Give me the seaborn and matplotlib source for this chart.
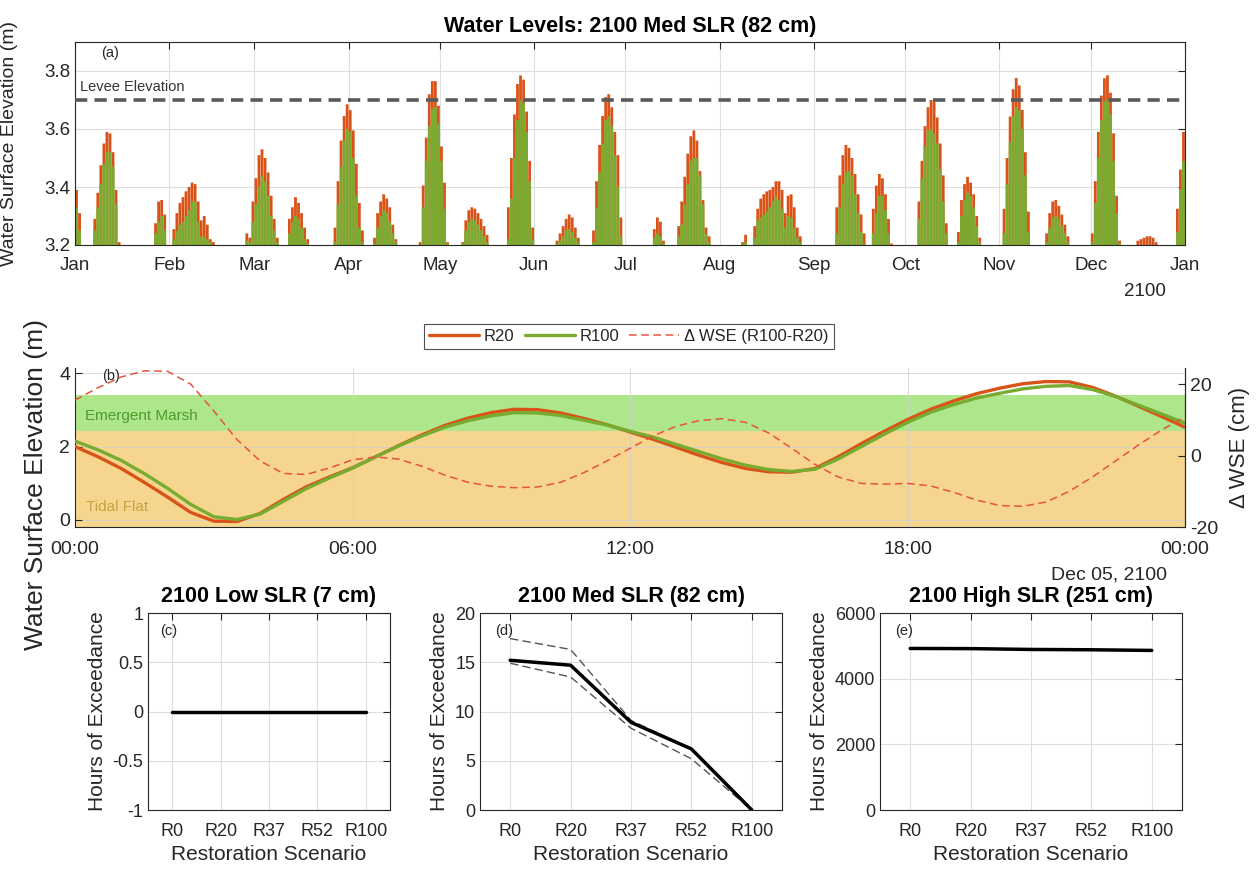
import numpy as np
import pandas as pd
import matplotlib
matplotlib.use("Agg")
import matplotlib.pyplot as plt
import seaborn as sns
from matplotlib.lines import Line2D

# ---------------- data ----------------
# Panel (a): daily maximum water levels (m), grouped in clusters of consecutive days
cluster_start = [0, 6, 26, 32, 56, 58, 70, 85, 98, 113, 127, 142, 158, 170, 190,
                 198, 219, 223, 250, 262, 277, 290, 305, 319, 334, 349, 362]
r20_clusters = [
    [3.39, 3.31],
    [3.29, 3.38, 3.475, 3.55, 3.59, 3.585, 3.52, 3.39, 3.21],
    [3.275, 3.35, 3.355, 3.305],
    [3.255, 3.31, 3.345, 3.365, 3.385, 3.40, 3.415, 3.41, 3.35, 3.285, 3.30, 3.27, 3.22, 3.21],
    [3.24, 3.225],
    [3.35, 3.43, 3.51, 3.53, 3.50, 3.45, 3.37, 3.29, 3.225],
    [3.29, 3.33, 3.365, 3.345, 3.31, 3.26, 3.22],
    [3.26, 3.42, 3.56, 3.645, 3.685, 3.665, 3.595, 3.48, 3.345, 3.25],
    [3.225, 3.31, 3.35, 3.375, 3.36, 3.33, 3.27, 3.22],
    [3.21, 3.405, 3.57, 3.72, 3.765, 3.765, 3.68, 3.54, 3.415, 3.21],
    [3.21, 3.285, 3.32, 3.33, 3.325, 3.31, 3.29, 3.265, 3.235],
    [3.33, 3.50, 3.65, 3.755, 3.785, 3.77, 3.66, 3.49, 3.26],
    [3.215, 3.24, 3.265, 3.29, 3.305, 3.295, 3.26, 3.225],
    [3.25, 3.42, 3.545, 3.645, 3.71, 3.72, 3.675, 3.59, 3.51, 3.295],
    [3.255, 3.295, 3.28, 3.215],
    [3.265, 3.35, 3.435, 3.515, 3.575, 3.595, 3.56, 3.455, 3.355, 3.26, 3.23],
    [3.21, 3.235],
    [3.265, 3.325, 3.36, 3.375, 3.385, 3.39, 3.40, 3.42, 3.42, 3.39, 3.31, 3.37, 3.375, 3.33, 3.26, 3.23],
    [3.33, 3.44, 3.51, 3.545, 3.535, 3.50, 3.445, 3.375, 3.305, 3.24],
    [3.325, 3.405, 3.445, 3.43, 3.375, 3.29, 3.205],
    [3.35, 3.49, 3.61, 3.675, 3.70, 3.695, 3.64, 3.55, 3.44, 3.275],
    [3.245, 3.355, 3.41, 3.435, 3.415, 3.375, 3.30, 3.225],
    [3.325, 3.50, 3.643, 3.737, 3.776, 3.75, 3.666, 3.52, 3.315],
    [3.24, 3.31, 3.35, 3.355, 3.335, 3.305, 3.27, 3.23],
    [3.24, 3.42, 3.59, 3.715, 3.775, 3.785, 3.725, 3.585, 3.37, 3.215],
    [3.215, 3.22, 3.225, 3.23, 3.23, 3.225, 3.21],
    [3.325, 3.46, 3.59],
]
r100_clusters = [
    [3.33, 3.25],
    [3.25, 3.33, 3.41, 3.48, 3.52, 3.52, 3.47, 3.34, 3.20],
    [3.24, 3.28, 3.30, 3.25],
    [3.22, 3.25, 3.27, 3.28, 3.30, 3.32, 3.35, 3.35, 3.28, 3.23, 3.23, 3.22, 3.21, 3.20],
    [3.215, 3.21],
    [3.28, 3.34, 3.40, 3.44, 3.42, 3.37, 3.30, 3.25, 3.21],
    [3.24, 3.28, 3.30, 3.29, 3.26, 3.22, 3.205],
    [3.21, 3.34, 3.47, 3.56, 3.60, 3.59, 3.50, 3.37, 3.26, 3.21],
    [3.205, 3.26, 3.30, 3.32, 3.31, 3.28, 3.24, 3.21],
    [3.20, 3.33, 3.49, 3.61, 3.67, 3.675, 3.62, 3.49, 3.325, 3.205],
    [3.205, 3.25, 3.28, 3.29, 3.285, 3.27, 3.25, 3.23, 3.21],
    [3.22, 3.36, 3.50, 3.63, 3.70, 3.69, 3.59, 3.42, 3.22],
    [3.205, 3.215, 3.23, 3.25, 3.255, 3.245, 3.225, 3.21],
    [3.21, 3.33, 3.45, 3.55, 3.63, 3.645, 3.61, 3.51, 3.40, 3.23],
    [3.225, 3.24, 3.23, 3.205],
    [3.23, 3.27, 3.34, 3.41, 3.49, 3.50, 3.50, 3.44, 3.34, 3.24, 3.21],
    [3.205, 3.21],
    [3.225, 3.285, 3.295, 3.305, 3.315, 3.33, 3.35, 3.365, 3.355, 3.325, 3.26, 3.30, 3.295, 3.26, 3.225, 3.21],
    [3.24, 3.33, 3.41, 3.45, 3.455, 3.44, 3.375, 3.31, 3.245, 3.205],
    [3.24, 3.31, 3.37, 3.37, 3.32, 3.24, 3.20],
    [3.29, 3.43, 3.54, 3.595, 3.60, 3.585, 3.55, 3.46, 3.35, 3.24],
    [3.21, 3.30, 3.355, 3.38, 3.37, 3.33, 3.265, 3.21],
    [3.24, 3.41, 3.555, 3.645, 3.675, 3.665, 3.60, 3.44, 3.245],
    [3.21, 3.26, 3.295, 3.30, 3.29, 3.265, 3.24, 3.21],
    [3.21, 3.345, 3.50, 3.63, 3.695, 3.70, 3.65, 3.49, 3.31, 3.205],
    [3.19, 3.19, 3.19, 3.19, 3.19, 3.19, 3.19],
    [3.245, 3.39, 3.49],
]
levee_elevation = 3.7
month_start_days = [0, 31, 59, 90, 120, 151, 181, 212, 243, 273, 304, 334, 365]
month_labels = ["Jan", "Feb", "Mar", "Apr", "May", "Jun", "Jul", "Aug", "Sep",
                "Oct", "Nov", "Dec", "Jan"]

# Panel (b): Dec 05, 2100, half-hourly
hours = np.arange(0, 24.5, 0.5)
wse_r20 = [2.00, 1.72, 1.40, 1.02, 0.62, 0.20, -0.04, -0.05, 0.17, 0.55,
           0.90, 1.17, 1.42, 1.72, 2.03, 2.32, 2.58, 2.78, 2.93, 3.02,
           3.01, 2.92, 2.77, 2.60, 2.40, 2.20, 1.98, 1.76, 1.56, 1.40,
           1.31, 1.30, 1.40, 1.72, 2.08, 2.42, 2.74, 3.02, 3.25, 3.45,
           3.60, 3.72, 3.78, 3.77, 3.62, 3.38, 3.10, 2.82, 2.53]
wse_r100 = [2.15, 1.91, 1.62, 1.26, 0.86, 0.42, 0.08, 0.005, 0.15, 0.50,
            0.85, 1.14, 1.41, 1.72, 2.02, 2.29, 2.53, 2.71, 2.84, 2.93,
            2.92, 2.85, 2.72, 2.59, 2.42, 2.26, 2.06, 1.86, 1.66, 1.49,
            1.37, 1.32, 1.38, 1.66, 2.00, 2.34, 2.66, 2.94, 3.15, 3.33,
            3.46, 3.58, 3.65, 3.67, 3.56, 3.37, 3.13, 2.89, 2.64]
delta_wse = [15.5, 19.0, 22.0, 23.7, 23.6, 20.0, 12.5, 4.5, -1.5, -5.0,
             -5.3, -3.5, -1.2, -0.4, -1.0, -3.0, -5.5, -7.5, -8.6, -9.0,
             -8.8, -7.5, -4.8, -1.5, 2.0, 5.5, 8.2, 9.8, 10.3, 9.3,
             6.3, 2.0, -2.5, -6.0, -7.8, -8.0, -7.8, -8.5, -10.3, -12.5,
             -14.0, -14.2, -13.0, -10.0, -6.0, -1.5, 3.0, 7.2, 10.8]
marsh_low, marsh_high = 2.42, 3.42
hour_ticks = [0, 6, 12, 18, 24]
hour_labels = ["00:00", "06:00", "12:00", "18:00", "00:00"]

# Panels (c)-(e): hours of exceedance
scenarios = ["R0", "R20", "R37", "R52", "R100"]
low_mean = [0, 0, 0, 0, 0]
med_mean = [15.2, 14.7, 8.9, 6.2, 0.0]
med_upper = [17.4, 16.3, 9.1, 6.2, 0.0]
med_lower = [14.9, 13.5, 8.3, 5.2, 0.0]
high_mean = [4920, 4915, 4890, 4880, 4860]

# ---------------- style ----------------
ORANGE = "#D95319"
GREEN = "#77AC30"
DARK = "#262626"
GRID = "#DEDEDE"

sns.set_theme(style="white")
plt.rcParams["font.family"] = ["Liberation Sans", "DejaVu Sans"]
plt.rcParams["axes.unicode_minus"] = False

W, H = 1260, 871
fig = plt.figure(figsize=(12.6, 8.71), dpi=100)


def ax_px(l, t, r, b):
    return fig.add_axes([l / W, 1 - b / H, (r - l) / W, (b - t) / H])


def matlab(ax, size=13, top=True, right=True):
    for s in ax.spines.values():
        s.set_color(DARK)
        s.set_linewidth(0.8)
    ax.tick_params(direction="in", length=5, width=0.8, colors=DARK,
                   labelsize=size, top=top, right=right)
    ax.grid(True, color=GRID, linewidth=0.8)
    ax.set_axisbelow(True)


# ---------------- panel (a) ----------------
axA = ax_px(75, 42, 1185, 245)
days, v20s, v100s = [], [], []
for s, v20, v100 in zip(cluster_start, r20_clusters, r100_clusters):
    for i, (a, b) in enumerate(zip(v20, v100)):
        days.append(s + i + 0.5)
        v20s.append(a)
        v100s.append(b)
df_a = pd.DataFrame({"day": days, "R20": v20s, "R100": v100s})
sns.barplot(data=df_a, x="day", y="R20", color=ORANGE, native_scale=True,
            width=0.92, errorbar=None, saturation=1, linewidth=0, ax=axA)
sns.barplot(data=df_a, x="day", y="R100", color=GREEN, native_scale=True,
            width=0.92, errorbar=None, saturation=1, linewidth=0, ax=axA)
for p in axA.patches:
    p.set_snap(False)
axA.axhline(levee_elevation, color="#595959", lw=2.6, dashes=(3.4, 2.0), zorder=3)
axA.set_xlim(0, 365)
axA.set_ylim(3.2, 3.9)
axA.set_yticks([3.2, 3.4, 3.6, 3.8])
axA.set_yticklabels(["3.2", "3.4", "3.6", "3.8"])
axA.set_xticks(month_start_days)
axA.set_xticklabels(month_labels)
matlab(axA, size=13.5)
axA.tick_params(axis="x", pad=9)
axA.set_xlabel("")
axA.set_ylabel("Water Surface Elevation (m)", fontsize=14, color=DARK)
axA.yaxis.set_label_coords(-0.051, 0.5)
axA.set_title("Water Levels: 2100 Med SLR (82 cm)", fontsize=15.5, fontweight="bold",
              color="black", pad=7)
axA.text(0.0235, 0.945, "(a)", transform=axA.transAxes, fontsize=10.5, va="center", color=DARK)
axA.text(5 / 1110, 3.745, "Levee Elevation", transform=axA.get_yaxis_transform(),
         fontsize=10.5, va="center", color="#333333")
axA.text(0.983, -0.23, "2100", transform=axA.transAxes, fontsize=13.5, ha="right",
         va="center", color=DARK)

# ---------------- panel (b) ----------------
axB = ax_px(75, 368, 1185, 527)
axB.axhspan(-0.2, marsh_low, color="#F6D68F", zorder=0.2, lw=0)
axB.axhspan(marsh_low, marsh_high, color="#AEE68B", zorder=0.2, lw=0)
sns.lineplot(x=hours, y=wse_r20, color=ORANGE, lw=2.4, ax=axB, zorder=3)
sns.lineplot(x=hours, y=wse_r100, color=GREEN, lw=2.4, ax=axB, zorder=4)
axB.set_xlim(0, 24)
axB.set_ylim(-0.2, 4.15)
axB.set_yticks([0, 2, 4])
axB.set_xticks(hour_ticks)
axB.set_xticklabels(hour_labels)
matlab(axB, size=14, top=False, right=False)
axB.grid(True, color="#D0D0D0", linewidth=0.7, alpha=0.8)
axB.spines["top"].set_visible(False)
axB.tick_params(axis="x", pad=10)
axB.set_ylabel("Water Surface Elevation (m)", fontsize=19, color=DARK)
axB.yaxis.set_label_coords(-0.024, 0.27)
axB.text(0.024, 0.948, "(b)", transform=axB.transAxes, fontsize=10.5, va="center", color=DARK)
axB.text(0.009, 1 - (416 - 367.7) / 159.6, "Emergent Marsh", transform=axB.transAxes,
         fontsize=11, va="center", color="#4E9A2E")
axB.text(0.010, 1 - (507 - 367.7) / 159.6, "Tidal Flat", transform=axB.transAxes,
         fontsize=11, va="center", color="#C9A043")
axB.text(0.9835, -0.30, "Dec 05, 2100", transform=axB.transAxes, fontsize=14,
         ha="right", va="center", color=DARK)

axB2 = axB.twinx()
sns.lineplot(x=hours, y=delta_wse, color="#E5533D", lw=1.1, ax=axB2)
axB2.lines[0].set_dashes((5, 3))
axB2.set_ylim(-20, 24.5)
axB2.set_yticks([-20, 0, 20])
for s in axB2.spines.values():
    s.set_visible(False)
axB2.spines["right"].set_visible(True)
axB2.spines["right"].set_color(DARK)
axB2.spines["right"].set_linewidth(0.8)
axB2.tick_params(direction="in", length=5, width=0.8, colors=DARK, labelsize=14)
axB2.set_ylabel("\u0394 WSE (cm)", fontsize=16, color=DARK, labelpad=8)
axB2.grid(False)

handles = [Line2D([], [], color=ORANGE, lw=2.4),
           Line2D([], [], color=GREEN, lw=2.4),
           Line2D([], [], color="#E5533D", lw=1.1, dashes=(5, 3))]
leg = fig.legend(handles, ["R20", "R100", "\u0394 WSE (R100-R20)"], loc="center",
                 bbox_to_anchor=(629 / W, 1 - 336 / H), ncol=3, fontsize=12,
                 frameon=True, fancybox=False, edgecolor=DARK, handlelength=3.0,
                 handletextpad=0.3, columnspacing=0.6, borderpad=0.3)
leg.get_frame().set_linewidth(0.8)

# ---------------- panels (c)-(e) ----------------
def exceed_panel(ax, title, tag, ylim, yticks, yticklabels):
    ax.set_xlim(-0.5, 4.5)
    ax.set_ylim(*ylim)
    ax.set_yticks(yticks)
    ax.set_yticklabels(yticklabels)
    ax.set_xticks(range(len(scenarios)))
    ax.set_xticklabels(scenarios)
    matlab(ax, size=13)
    ax.tick_params(axis="x", pad=9)
    ax.set_xlabel("Restoration Scenario", fontsize=15, color=DARK)
    ax.set_ylabel("Hours of Exceedance", fontsize=15, color=DARK)
    ax.set_title(title, fontsize=15.5, fontweight="bold", color="black", pad=8)
    ax.text(0.05, 0.91, tag, transform=ax.transAxes, fontsize=10.5, va="center", color=DARK)


axC = ax_px(148, 613, 390, 810)
sns.lineplot(x=scenarios, y=low_mean, color="black", lw=2.5, sort=False, ax=axC)
exceed_panel(axC, "2100 Low SLR (7 cm)", "(c)", (-1, 1), [-1, -0.5, 0, 0.5, 1],
             ["-1", "-0.5", "0", "0.5", "1"])

axD = ax_px(480, 613, 782, 810)
sns.lineplot(x=scenarios, y=med_upper, color="#555555", lw=1.0, sort=False, ax=axD)
sns.lineplot(x=scenarios, y=med_lower, color="#555555", lw=1.0, sort=False, ax=axD)
for ln in axD.lines:
    ln.set_dashes((6, 3))
sns.lineplot(x=scenarios, y=med_mean, color="black", lw=2.5, sort=False, ax=axD)
exceed_panel(axD, "2100 Med SLR (82 cm)", "(d)", (0, 20), [0, 5, 10, 15, 20],
             ["0", "5", "10", "15", "20"])

axE = ax_px(880, 613, 1182, 810)
sns.lineplot(x=scenarios, y=high_mean, color="black", lw=2.5, sort=False, ax=axE)
exceed_panel(axE, "2100 High SLR (251 cm)", "(e)", (0, 6000), [0, 2000, 4000, 6000],
             ["0", "2000", "4000", "6000"])

fig.savefig("out.png", dpi=100)
